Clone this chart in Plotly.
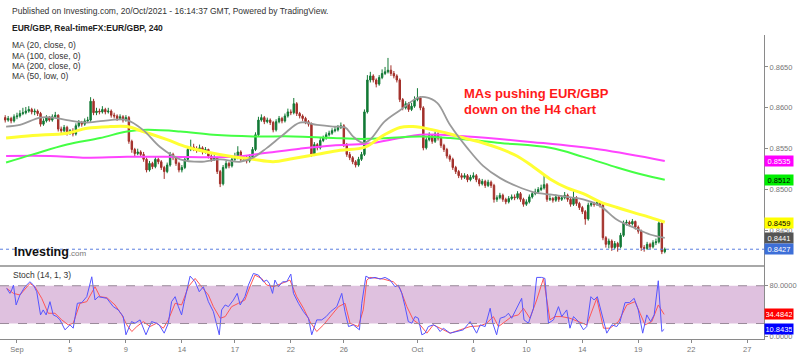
import plotly.graph_objects as go

# ---------------- data ----------------
# bar index: 4-hour bars, 0 = first bar of 1 Sep 2021 (weekend gaps removed)
bar = list(range(-4, 221))

open_ = [
    0.8588, 0.8585, 0.8587, 0.8584,
    0.8589, 0.8590, 0.8593, 0.8594, 0.8596, 0.8598,
    0.8595, 0.8596, 0.8593, 0.8580, 0.8584, 0.8588,
    0.8585, 0.8589, 0.8591, 0.8574, 0.8572, 0.8576,
    0.8569,
    0.8572, 0.8568, 0.8578, 0.8582, 0.8580, 0.8584,
    0.8585, 0.8608, 0.8594, 0.8596, 0.8595, 0.8598,
    0.8595, 0.8596, 0.8591, 0.8590, 0.8587, 0.8589,
    0.8585, 0.8588, 0.8559, 0.8549, 0.8544, 0.8546,
    0.8543, 0.8537, 0.8524, 0.8532, 0.8528, 0.8537,
    0.8534,
    0.8527, 0.8522, 0.8530, 0.8543, 0.8539, 0.8532,
    0.8524, 0.8527, 0.8537, 0.8549, 0.8552, 0.8550,
    0.8548, 0.8551, 0.8546, 0.8549, 0.8541, 0.8537,
    0.8539, 0.8522, 0.8507, 0.8527, 0.8532, 0.8529,
    0.8537, 0.8539, 0.8546, 0.8537, 0.8539, 0.8535,
    0.8540,
    0.8549, 0.8567, 0.8585, 0.8588, 0.8583, 0.8585,
    0.8582, 0.8573, 0.8583, 0.8587, 0.8584, 0.8590,
    0.8595, 0.8594, 0.8605, 0.8593, 0.8590, 0.8587,
    0.8583, 0.8580, 0.8543, 0.8555, 0.8551, 0.8560,
    0.8563, 0.8567, 0.8569, 0.8572, 0.8573, 0.8576,
    0.8578,
    0.8555, 0.8543, 0.8539, 0.8534, 0.8530, 0.8537,
    0.8543, 0.8595, 0.8634, 0.8639, 0.8634, 0.8629,
    0.8637, 0.8642, 0.8644, 0.8646, 0.8642, 0.8639,
    0.8634, 0.8610, 0.8600, 0.8605, 0.8598, 0.8602,
    0.8610, 0.8612, 0.8600, 0.8551, 0.8561, 0.8566,
    0.8559,
    0.8568, 0.8563, 0.8554, 0.8549, 0.8541, 0.8537,
    0.8527, 0.8522, 0.8517, 0.8515, 0.8517, 0.8512,
    0.8515, 0.8517, 0.8512, 0.8507, 0.8510, 0.8505,
    0.8509, 0.8505, 0.8488, 0.8490, 0.8493, 0.8488,
    0.8485, 0.8489, 0.8491, 0.8490, 0.8495, 0.8488,
    0.8482,
    0.8485, 0.8491, 0.8495, 0.8497, 0.8500, 0.8502,
    0.8506, 0.8488, 0.8489, 0.8487, 0.8491, 0.8488,
    0.8490, 0.8493, 0.8488, 0.8482, 0.8490, 0.8483,
    0.8478, 0.8473, 0.8464, 0.8481, 0.8483, 0.8482,
    0.8484, 0.8481, 0.8441, 0.8433, 0.8437, 0.8429,
    0.8434,
    0.8430, 0.8444, 0.8459, 0.8460, 0.8458, 0.8461,
    0.8454, 0.8449, 0.8429, 0.8428, 0.8433, 0.8430,
    0.8435, 0.8436, 0.8459, 0.8424,
]

high = [
    0.8591, 0.8590, 0.8589, 0.8592,
    0.8594, 0.8597, 0.8600, 0.8601, 0.8602, 0.8600,
    0.8599, 0.8598, 0.8595, 0.8587, 0.8591, 0.8590,
    0.8592, 0.8595, 0.8592, 0.8577, 0.8579, 0.8578,
    0.8574,
    0.8575, 0.8581, 0.8585, 0.8584, 0.8587, 0.8589,
    0.8613, 0.8611, 0.8600, 0.8599, 0.8602, 0.8600,
    0.8600, 0.8598, 0.8594, 0.8592, 0.8592, 0.8591,
    0.8591, 0.8590, 0.8561, 0.8551, 0.8550, 0.8548,
    0.8546, 0.8539, 0.8535, 0.8534, 0.8540, 0.8539,
    0.8536,
    0.8529, 0.8533, 0.8546, 0.8545, 0.8541, 0.8534,
    0.8530, 0.8540, 0.8553, 0.8561, 0.8556, 0.8553,
    0.8555, 0.8553, 0.8552, 0.8550, 0.8543, 0.8542,
    0.8540, 0.8524, 0.8530, 0.8535, 0.8534, 0.8540,
    0.8545, 0.8553, 0.8548, 0.8542, 0.8541, 0.8543,
    0.8552,
    0.8570, 0.8589, 0.8592, 0.8590, 0.8588, 0.8587,
    0.8584, 0.8586, 0.8590, 0.8589, 0.8593, 0.8599,
    0.8598, 0.8612, 0.8607, 0.8595, 0.8592, 0.8589,
    0.8585, 0.8582, 0.8558, 0.8557, 0.8563, 0.8566,
    0.8570, 0.8572, 0.8575, 0.8577, 0.8579, 0.8582,
    0.8580,
    0.8557, 0.8546, 0.8541, 0.8536, 0.8540, 0.8546,
    0.8598, 0.8640, 0.8644, 0.8641, 0.8636, 0.8640,
    0.8647, 0.8650, 0.8661, 0.8652, 0.8645, 0.8641,
    0.8636, 0.8612, 0.8608, 0.8607, 0.8606, 0.8614,
    0.8624, 0.8614, 0.8602, 0.8564, 0.8570, 0.8568,
    0.8571,
    0.8570, 0.8565, 0.8556, 0.8551, 0.8543, 0.8539,
    0.8529, 0.8524, 0.8520, 0.8520, 0.8519, 0.8518,
    0.8521, 0.8519, 0.8514, 0.8513, 0.8512, 0.8512,
    0.8511, 0.8507, 0.8493, 0.8496, 0.8495, 0.8490,
    0.8492, 0.8494, 0.8494, 0.8498, 0.8497, 0.8490,
    0.8488,
    0.8494, 0.8498, 0.8501, 0.8503, 0.8506, 0.8518,
    0.8508, 0.8493, 0.8491, 0.8494, 0.8493, 0.8493,
    0.8497, 0.8495, 0.8490, 0.8499, 0.8492, 0.8485,
    0.8480, 0.8475, 0.8484, 0.8486, 0.8485, 0.8487,
    0.8486, 0.8483, 0.8443, 0.8440, 0.8439, 0.8437,
    0.8436,
    0.8447, 0.8462, 0.8463, 0.8462, 0.8464, 0.8462,
    0.8456, 0.8451, 0.8432, 0.8436, 0.8435, 0.8438,
    0.8440, 0.8461, 0.8460, 0.8429,
]

low = [
    0.8582, 0.8583, 0.8581, 0.8582,
    0.8586, 0.8588, 0.8591, 0.8592, 0.8594, 0.8592,
    0.8591, 0.8590, 0.8577, 0.8578, 0.8582, 0.8583,
    0.8583, 0.8587, 0.8571, 0.8569, 0.8570, 0.8566,
    0.8567,
    0.8565, 0.8566, 0.8576, 0.8577, 0.8578, 0.8582,
    0.8583, 0.8591, 0.8591, 0.8592, 0.8593, 0.8592,
    0.8593, 0.8588, 0.8587, 0.8584, 0.8585, 0.8582,
    0.8583, 0.8556, 0.8545, 0.8541, 0.8542, 0.8540,
    0.8534, 0.8521, 0.8522, 0.8525, 0.8526, 0.8531,
    0.8524,
    0.8513, 0.8520, 0.8528, 0.8536, 0.8529, 0.8521,
    0.8521, 0.8525, 0.8535, 0.8547, 0.8547, 0.8545,
    0.8546, 0.8543, 0.8544, 0.8538, 0.8534, 0.8535,
    0.8519, 0.8503, 0.8505, 0.8525, 0.8526, 0.8527,
    0.8535, 0.8537, 0.8534, 0.8535, 0.8532, 0.8533,
    0.8538,
    0.8547, 0.8565, 0.8583, 0.8580, 0.8581, 0.8579,
    0.8570, 0.8571, 0.8581, 0.8581, 0.8582, 0.8588,
    0.8591, 0.8592, 0.8590, 0.8587, 0.8584, 0.8580,
    0.8577, 0.8540, 0.8541, 0.8548, 0.8549, 0.8558,
    0.8561, 0.8565, 0.8567, 0.8570, 0.8571, 0.8574,
    0.8552,
    0.8540, 0.8536, 0.8531, 0.8527, 0.8528, 0.8535,
    0.8541, 0.8593, 0.8631, 0.8631, 0.8625, 0.8627,
    0.8635, 0.8640, 0.8642, 0.8639, 0.8636, 0.8631,
    0.8607, 0.8597, 0.8598, 0.8595, 0.8596, 0.8600,
    0.8608, 0.8597, 0.8548, 0.8549, 0.8559, 0.8556,
    0.8557,
    0.8560, 0.8551, 0.8546, 0.8538, 0.8534, 0.8524,
    0.8519, 0.8514, 0.8512, 0.8513, 0.8509, 0.8510,
    0.8513, 0.8509, 0.8504, 0.8505, 0.8502, 0.8503,
    0.8502, 0.8484, 0.8485, 0.8488, 0.8485, 0.8482,
    0.8483, 0.8487, 0.8487, 0.8488, 0.8485, 0.8479,
    0.8480,
    0.8483, 0.8489, 0.8493, 0.8495, 0.8498, 0.8500,
    0.8485, 0.8486, 0.8484, 0.8485, 0.8485, 0.8486,
    0.8488, 0.8485, 0.8479, 0.8480, 0.8480, 0.8475,
    0.8470, 0.8457, 0.8462, 0.8479, 0.8479, 0.8480,
    0.8478, 0.8438, 0.8429, 0.8428, 0.8425, 0.8427,
    0.8424,
    0.8428, 0.8442, 0.8456, 0.8455, 0.8456, 0.8451,
    0.8446, 0.8425, 0.8424, 0.8426, 0.8427, 0.8428,
    0.8432, 0.8434, 0.8421, 0.8422,
]

close = [
    0.8585, 0.8587, 0.8584, 0.8589,
    0.8590, 0.8593, 0.8594, 0.8596, 0.8598, 0.8595,
    0.8596, 0.8593, 0.8580, 0.8584, 0.8588, 0.8585,
    0.8589, 0.8591, 0.8574, 0.8572, 0.8576, 0.8569,
    0.8572,
    0.8568, 0.8578, 0.8582, 0.8580, 0.8584, 0.8585,
    0.8608, 0.8594, 0.8596, 0.8595, 0.8598, 0.8595,
    0.8596, 0.8591, 0.8590, 0.8587, 0.8589, 0.8585,
    0.8588, 0.8559, 0.8549, 0.8544, 0.8546, 0.8543,
    0.8537, 0.8524, 0.8532, 0.8528, 0.8537, 0.8534,
    0.8527,
    0.8522, 0.8530, 0.8543, 0.8539, 0.8532, 0.8524,
    0.8527, 0.8537, 0.8549, 0.8552, 0.8550, 0.8548,
    0.8551, 0.8546, 0.8549, 0.8541, 0.8537, 0.8539,
    0.8522, 0.8507, 0.8527, 0.8532, 0.8529, 0.8537,
    0.8539, 0.8546, 0.8537, 0.8539, 0.8535, 0.8540,
    0.8549,
    0.8567, 0.8585, 0.8588, 0.8583, 0.8585, 0.8582,
    0.8573, 0.8583, 0.8587, 0.8584, 0.8590, 0.8595,
    0.8594, 0.8605, 0.8593, 0.8590, 0.8587, 0.8583,
    0.8580, 0.8543, 0.8555, 0.8551, 0.8560, 0.8563,
    0.8567, 0.8569, 0.8572, 0.8573, 0.8576, 0.8578,
    0.8555,
    0.8543, 0.8539, 0.8534, 0.8530, 0.8537, 0.8543,
    0.8595, 0.8634, 0.8639, 0.8634, 0.8629, 0.8637,
    0.8642, 0.8644, 0.8646, 0.8642, 0.8639, 0.8634,
    0.8610, 0.8600, 0.8605, 0.8598, 0.8602, 0.8610,
    0.8612, 0.8600, 0.8551, 0.8561, 0.8566, 0.8559,
    0.8568,
    0.8563, 0.8554, 0.8549, 0.8541, 0.8537, 0.8527,
    0.8522, 0.8517, 0.8515, 0.8517, 0.8512, 0.8515,
    0.8517, 0.8512, 0.8507, 0.8510, 0.8505, 0.8509,
    0.8505, 0.8488, 0.8490, 0.8493, 0.8488, 0.8485,
    0.8489, 0.8491, 0.8490, 0.8495, 0.8488, 0.8482,
    0.8485,
    0.8491, 0.8495, 0.8497, 0.8500, 0.8502, 0.8506,
    0.8488, 0.8489, 0.8487, 0.8491, 0.8488, 0.8490,
    0.8493, 0.8488, 0.8482, 0.8490, 0.8483, 0.8478,
    0.8473, 0.8464, 0.8481, 0.8483, 0.8482, 0.8484,
    0.8481, 0.8441, 0.8433, 0.8437, 0.8429, 0.8434,
    0.8430,
    0.8444, 0.8459, 0.8460, 0.8458, 0.8461, 0.8454,
    0.8449, 0.8429, 0.8428, 0.8433, 0.8430, 0.8435,
    0.8436, 0.8459, 0.8424, 0.8427,
]

# moving averages (at these bar positions)
ma20_t = [-3.7, 1.0, 7.8, 12.2, 17.0, 23.8, 31.6, 37.4, 42.8, 48.6, 55.4, 62.2, 69.0,
          75.7, 80.2, 84.9, 90.4, 96.1, 101.9, 107.3, 111.4, 114.1, 117.5, 119.9,
          124.8, 130.1, 135.9, 138.6, 142.7, 147.1, 152.9, 158.3, 164.1, 169.8,
          175.3, 181.0, 186.8, 192.3, 198.0, 203.8, 209.2, 215.0, 220.0]
ma20 = [0.8577, 0.8579, 0.8588, 0.8588, 0.8585, 0.8582, 0.8585, 0.8585, 0.8573, 0.8552,
        0.8537, 0.8534, 0.8537, 0.8534, 0.8539, 0.8551, 0.8567, 0.8582, 0.8579, 0.8577,
        0.8576, 0.8565, 0.8557, 0.8561, 0.8583, 0.8597, 0.8612, 0.8613, 0.8606, 0.8579,
        0.8551, 0.8529, 0.8514, 0.8504, 0.8497, 0.8494, 0.8491, 0.8488, 0.8480, 0.8463,
        0.8454, 0.8445, 0.8441]

ma50_t = [-3.7, 5.4, 17.0, 23.8, 31.6, 37.4, 42.8, 51.0, 57.7, 64.5, 73.4, 80.2, 87.0,
          93.8, 101.9, 109.7, 118.2, 124.3, 130.1, 134.5, 141.3, 147.1, 152.9, 158.3,
          164.1, 169.8, 175.3, 181.0, 186.8, 192.3, 198.0, 203.8, 209.2, 215.0, 220.0]
ma50 = [0.8563, 0.8566, 0.8569, 0.8575, 0.8577, 0.8577, 0.8571, 0.8561, 0.8552, 0.8546,
        0.8540, 0.8537, 0.8534, 0.8538, 0.8543, 0.8548, 0.8552, 0.8566, 0.8576, 0.8577,
        0.8573, 0.8568, 0.8562, 0.8557, 0.8550, 0.8541, 0.8528, 0.8513, 0.8502, 0.8495,
        0.8485, 0.8478, 0.8472, 0.8466, 0.8460]

ma100_t = [-3.7, 5.4, 17.0, 28.2, 37.4, 44.2, 55.4, 66.6, 80.2, 93.8, 107.3, 118.9,
           136.9, 147.1, 164.1, 181.0, 192.3, 203.8, 212.6, 220.0]
ma100 = [0.8533, 0.8543, 0.8555, 0.8563, 0.8571, 0.8573, 0.8571, 0.8567, 0.8565, 0.8565,
         0.8563, 0.8562, 0.8565, 0.8563, 0.8557, 0.8551, 0.8540, 0.8527, 0.8518, 0.8512]

ma200_t = [-3.7, 11.2, 22.4, 37.4, 51.0, 73.4, 84.9, 96.1, 107.3, 118.9, 130.1, 136.9,
           152.9, 175.3, 198.0, 220.0]
ma200 = [0.8541, 0.8541, 0.8539, 0.8540, 0.8540, 0.8540, 0.8545, 0.8550, 0.8554, 0.8556,
         0.8563, 0.8567, 0.8565, 0.8558, 0.8549, 0.8535]

# stochastic (14, 1, 3)
stk_t = [-3.5, -2.4, -1.8, -1.2, -0.3, 1.0, 2.7, 4.4, 5.6, 6.7, 8.0, 8.9, 9.9, 11.2, 12.3,
         13.5, 14.6, 16.3, 18.0, 19.1, 20.5, 22.0, 23.7, 25.4, 26.5, 27.6, 30.5, 32.7,
         34.4, 36.1, 37.0, 38.9, 40.1, 41.8, 43.8, 45.7, 47.4, 48.3, 50.0, 51.4, 52.5,
         53.7, 54.8, 55.9, 56.8, 58.8, 60.5, 61.9, 63.3, 65.0, 66.7, 67.6, 68.7, 69.5,
         70.7, 71.8, 73.5, 74.8, 75.8, 77.4, 78.6, 80.3, 82.0, 83.7, 84.8, 85.7, 86.8,
         87.6, 88.8, 90.2, 91.6, 93.0, 93.9, 95.6, 97.3, 99.0, 100.1, 101.8, 103.5,
         105.0, 106.5, 108.6, 110.3, 111.4, 112.6, 114.2, 116.3, 117.1, 118.5, 119.9,
         121.6, 123.3, 125.0, 126.7, 128.4, 129.5, 130.7, 131.8, 132.9, 134.1, 135.2,
         136.3, 137.5, 138.6, 139.7, 141.4, 142.5, 143.7, 144.8, 147.1, 149.3, 151.6,
         153.9, 155.0, 156.1, 157.3, 159.0, 160.7, 161.6, 162.9, 164.1, 165.8, 166.9,
         168.0, 169.7, 171.4, 172.2, 173.7, 175.4, 176.5, 178.2, 179.3, 180.5, 182.2,
         183.9, 185.0, 186.7, 187.8, 189.0, 190.7, 192.4, 193.5, 194.9, 196.0, 197.1,
         198.6, 200.3, 202.0, 203.7, 204.8, 206.5, 208.0, 209.6, 211.0, 212.5, 213.9,
         215.2, 216.4, 217.8, 219.0, 219.8]
stk = [75.8, 67.9, 73.2, 81.1, 49.5, 65.3, 78.4, 86.3, 81.1, 70.5, 33.7, 41.6, 33.7, 54.7,
       33.7, 31.0, 25.8, 10.0, 17.9, 12.6, 52.1, 53.2, 62.6, 94.2, 57.4, 62.6, 60.0, 46.8,
       41.6, 31.0, 2.1, 23.1, 20.5, 25.8, 2.1, 23.1, 20.5, 17.9, 4.7, 20.5, 54.7, 62.6,
       46.8, 33.7, 54.7, 95.3, 86.3, 70.5, 78.4, 54.7, 38.9, 23.1, 2.1, 41.6, 49.5, 46.8,
       57.4, 67.9, 49.5, 62.6, 81.1, 99.5, 96.9, 86.3, 89.0, 83.7, 67.9, 89.0, 78.4, 86.3,
       86.3, 98.5, 67.9, 52.1, 38.9, 28.4, 2.1, 25.8, 25.8, 31.0, 38.9, 46.8, 67.9, 38.9,
       15.2, 17.9, 10.0, 52.1, 95.3, 91.6, 93.2, 90.6, 93.2, 89.0, 78.4, 81.1, 67.9, 46.8,
       23.1, 20.5, 31.0, 28.4, 2.1, 4.7, 15.2, 17.9, 15.2, 7.3, 12.6, 4.7, 7.3, 10.0,
       23.1, 12.6, 4.7, 17.9, 15.2, 44.2, 20.5, 2.1, 28.4, 31.0, 36.3, 28.4, 44.2, 60.0,
       25.8, 20.5, 44.2, 93.2, 93.2, 91.6, 20.5, 25.8, 46.8, 31.0, 41.6, 12.6, 31.0, 23.1,
       10.0, 15.2, 62.6, 57.4, 62.6, 33.7, 4.7, 17.9, 15.2, 23.1, 53.2, 53.2, 60.0, 41.6,
       4.7, 33.7, 23.1, 33.7, 87.9, 7.3, 10.8435]

std_t = [-3.5, -1.2, 1.0, 4.4, 6.1, 8.4, 10.6, 12.9, 15.2, 17.4, 19.1, 21.4, 23.7, 26.5,
         28.2, 30.5, 33.3, 35.6, 37.3, 39.0, 40.7, 42.9, 45.2, 47.4, 49.7, 51.4, 53.7,
         55.9, 58.2, 60.5, 62.7, 65.0, 66.7, 69.0, 70.7, 72.9, 75.2, 77.4, 79.1, 80.8,
         83.1, 84.8, 87.1, 89.9, 92.7, 95.0, 97.3, 99.5, 101.8, 104.1, 106.3, 109.2,
         111.4, 113.1, 115.9, 117.6, 118.8, 119.9, 124.4, 127.8, 130.1, 132.4, 134.6,
         136.9, 139.2, 141.4, 143.7, 147.1, 150.5, 153.9, 157.3, 159.5, 161.8, 163.5,
         165.8, 168.0, 170.3, 172.0, 174.2, 176.5, 178.8, 181.0, 182.7, 185.0, 187.8,
         190.7, 193.5, 196.9, 199.2, 201.4, 204.3, 207.1, 209.9, 211.6, 213.3, 215.6,
         217.8, 219.8]
std = [75.8, 67.9, 65.3, 83.7, 78.4, 60.0, 36.3, 36.3, 25.8, 17.9, 20.5, 52.1, 54.7, 78.4,
       62.6, 61.1, 49.5, 33.7, 17.9, 7.3, 15.2, 23.1, 15.2, 20.5, 12.6, 25.8, 52.1, 49.5,
       78.4, 91.6, 78.4, 65.3, 46.8, 28.4, 31.0, 46.8, 52.1, 57.4, 78.4, 96.9, 91.6, 81.1,
       78.4, 83.7, 89.0, 62.6, 44.2, 23.1, 7.3, 17.9, 31.0, 46.8, 52.1, 20.5, 15.2, 41.6,
       89.0, 93.2, 90.6, 86.3, 75.8, 46.8, 25.8, 17.9, 4.7, 17.9, 12.6, 4.7, 10.0, 15.2,
       16.3, 20.5, 31.0, 15.2, 23.1, 31.0, 33.7, 44.2, 28.4, 57.4, 91.6, 25.8, 31.0, 31.0,
       28.4, 23.1, 17.9, 60.0, 12.6, 12.6, 23.1, 49.5, 54.7, 36.3, 17.9, 23.1, 49.5, 34.4842]

tick_pos = [0, 18, 37, 56, 74, 93, 111, 136, 155, 173, 192, 211, 229, 248]
tick_txt = ['Sep', '5', '9', '14', '17', '22', '26', 'Oct', '6', '10', '14', '19', '22', '27']

price_ticks = [0.8450, 0.8500, 0.8550, 0.8600, 0.8650]
last_price = 0.8427
ma_last = {'ma200': 0.8535, 'ma100': 0.8512, 'ma50': 0.8459, 'ma20': 0.8441}
stoch_last = {'k': 10.8435, 'd': 34.4842}

# ---------------- styling ----------------
W, H = 800, 357
XD = 764 / W                        # plot area right edge (axis line)
X_RANGE = [-5.77, 253.7]
Y_RANGE = [0.84083, 0.86893]
S_RANGE = [-4.7, 113.7]
MAIN_DOM = [1 - 266 / H, 1 - 35 / H]
STOCH_DOM = [1 - 341 / H, 1 - 266 / H]
FONT = 'Arial, Liberation Sans, sans-serif'

UP = '#137a36'
DN = '#a3302a'
C_MA20 = '#9a9a9a'
C_MA50 = '#ffff33'
C_MA100 = '#44ff44'
C_MA200 = '#ff44ff'

fig = go.Figure()

fig.add_trace(go.Candlestick(
    x=bar, open=open_, high=high, low=low, close=close,
    increasing=dict(line=dict(color=UP, width=1), fillcolor=UP),
    decreasing=dict(line=dict(color=DN, width=1), fillcolor=DN),
    whiskerwidth=0, hoverinfo='skip', xaxis='x', yaxis='y'))

for t, v, c, w in [(ma200_t, ma200, C_MA200, 2), (ma100_t, ma100, C_MA100, 2),
                   (ma50_t, ma50, C_MA50, 3), (ma20_t, ma20, C_MA20, 1.8)]:
    fig.add_trace(go.Scatter(x=t, y=v, mode='lines', xaxis='x', yaxis='y',
                             line=dict(color=c, width=w, shape='spline', smoothing=1.0),
                             hoverinfo='skip'))

fig.add_trace(go.Scatter(x=std_t, y=std, mode='lines', xaxis='x2', yaxis='y2',
                         line=dict(color='#ff5555', width=1), hoverinfo='skip'))
fig.add_trace(go.Scatter(x=stk_t, y=stk, mode='lines', xaxis='x2', yaxis='y2',
                         line=dict(color='#5555ff', width=1), hoverinfo='skip'))

shapes = [
    dict(type='rect', xref='paper', yref='y2', x0=0, x1=XD, y0=20, y1=80,
         fillcolor='#dfc1df', line=dict(width=0), layer='below'),
    dict(type='line', xref='paper', yref='y2', x0=0, x1=XD, y0=80, y1=80,
         line=dict(color='#9a8a9a', width=1, dash='dash')),
    dict(type='line', xref='paper', yref='y2', x0=0, x1=XD, y0=20, y1=20,
         line=dict(color='#9a8a9a', width=1, dash='dash')),
    dict(type='line', xref='paper', yref='y', x0=0, x1=XD, y0=last_price, y1=last_price,
         line=dict(color='#5b7fe0', width=1, dash='dot')),
]


def py(px):
    return 1 - px / H


ann = [
    dict(text='Published on Investing.com, 20/Oct/2021 - 16:14:37 GMT, Powered by TradingView.',
         x=10 / W, y=py(11), font=dict(size=8.5, color='#333')),
    dict(text='<b>EUR/GBP, Real-timeFX:EUR/GBP, 240</b>',
         x=10 / W, y=py(28), font=dict(size=8.5, color='#222')),
    dict(text='MA (20, close, 0)', x=10 / W, y=py(45), font=dict(size=8.5, color='#333')),
    dict(text='MA (100, close, 0)', x=10 / W, y=py(56), font=dict(size=8.5, color='#333')),
    dict(text='MA (200, close, 0)', x=10 / W, y=py(66), font=dict(size=8.5, color='#333')),
    dict(text='MA (50, low, 0)', x=10 / W, y=py(76), font=dict(size=8.5, color='#333')),
    dict(text='Stoch (14, 1, 3)', x=11 / W, y=py(277), font=dict(size=8.5, color='#333')),
    dict(text='<b>Investing</b><span style="font-size:8px;color:#777">.com</span>',
         x=12 / W, y=py(253), font=dict(size=12.5, color='#111')),
    dict(text='<b>MAs pushing EUR/GBP</b>', x=462 / W, y=py(94),
         font=dict(size=13, color='#ff1a1a')),
    dict(text='<b>down on the H4 chart</b>', x=462 / W, y=py(110),
         font=dict(size=13, color='#ff1a1a')),
]
for a in ann:
    a.update(xref='paper', yref='paper', xanchor='left', yanchor='middle', showarrow=False)
    a['font']['family'] = FONT

boxes = [
    (ma_last['ma200'], 'y', '#ff00ff', 'white'),
    (ma_last['ma100'], 'y', '#00ee00', 'black'),
    (ma_last['ma50'], 'y', '#ffff00', 'black'),
    (ma_last['ma20'], 'y', '#555555', 'white'),
    (last_price, 'y', '#3d6fd8', 'white'),
    (stoch_last['d'], 'y2', '#ff0000', 'white'),
    (stoch_last['k'], 'y2', '#0000ff', 'white'),
]
for v, yr, bg, fc in boxes:
    ann.append(dict(text=f'{v:.4f}', x=XD, xref='paper', y=v, yref=yr, xanchor='left',
                    yanchor='middle', showarrow=False, bgcolor=bg, borderpad=1,
                    width=26, height=8, align='center',
                    font=dict(size=7.5, color=fc, family=FONT)))

axis_common = dict(showgrid=False, zeroline=False, linecolor='#8a8a8a', linewidth=1)

fig.update_layout(
    width=W, height=H, margin=dict(l=0, r=0, t=0, b=0),
    paper_bgcolor='white', plot_bgcolor='white', showlegend=False,
    hovermode=False, font=dict(family=FONT),
    xaxis=dict(domain=[0, XD], range=X_RANGE, anchor='y', showticklabels=False,
               showline=True, ticks='', rangeslider=dict(visible=False),
               **{**axis_common, 'linecolor': '#a8a8a8', 'linewidth': 2}),
    xaxis2=dict(domain=[0, XD], range=X_RANGE, anchor='y2', showline=True,
                tickmode='array', tickvals=tick_pos, ticktext=tick_txt,
                ticks='outside', ticklen=3, tickcolor='#8a8a8a',
                tickfont=dict(size=7.5, color='#777'), **axis_common),
    yaxis=dict(domain=MAIN_DOM, range=Y_RANGE, anchor='x', side='right', showline=True,
               tickmode='array', tickvals=price_ticks,
               ticktext=[f'{v:.4f}' for v in price_ticks],
               ticks='outside', ticklen=3, tickcolor='#8a8a8a',
               tickfont=dict(size=7.5, color='#777'), **axis_common),
    yaxis2=dict(domain=STOCH_DOM, range=S_RANGE, anchor='x2', side='right', showline=True,
                tickmode='array', tickvals=[0, 80], ticktext=['0.0000', '80.0000'],
                ticks='outside', ticklen=3, tickcolor='#8a8a8a',
                tickfont=dict(size=7.5, color='#777'), **axis_common),
    shapes=shapes, annotations=ann,
)

fig.write_html('out.html', config={'displayModeBar': False},
               post_script="document.body.style.margin='0';document.body.style.overflow='hidden';")
